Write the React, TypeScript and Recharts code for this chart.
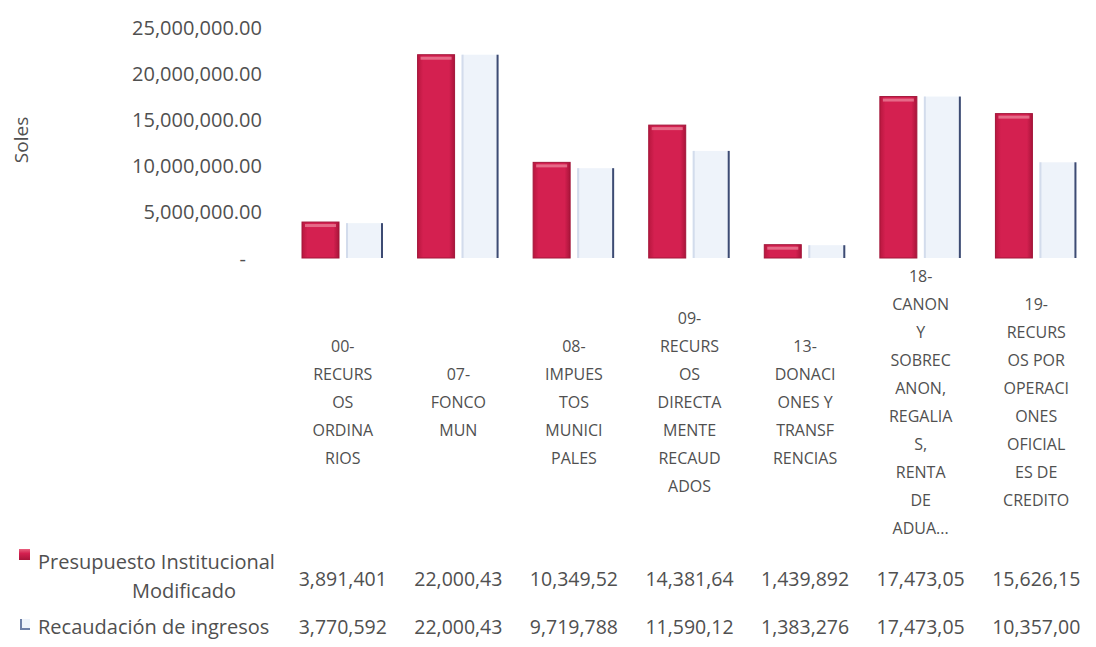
import { BarChart, Bar, XAxis, YAxis } from 'recharts';

const categories = [
  '00-RECURSOS ORDINARIOS',
  '07-FONCOMUN',
  '08-IMPUESTOS MUNICIPALES',
  '09-RECURSOS DIRECTAMENTE RECAUDADOS',
  '13-DONACIONES Y TRANSFERENCIAS',
  '18-CANON Y SOBRECANON, REGALIAS, RENTA DE ADUA...',
  '19-RECURSOS POR OPERACIONES OFICIALES DE CREDITO',
];

// wrapped exactly as shown in the axis
const categoryLines = [
  ['00-', 'RECURS', 'OS', 'ORDINA', 'RIOS'],
  ['07-', 'FONCO', 'MUN'],
  ['08-', 'IMPUES', 'TOS', 'MUNICI', 'PALES'],
  ['09-', 'RECURS', 'OS', 'DIRECTA', 'MENTE', 'RECAUD', 'ADOS'],
  ['13-', 'DONACI', 'ONES Y', 'TRANSF', 'RENCIAS'],
  ['18-', 'CANON', 'Y', 'SOBREC', 'ANON,', 'REGALIA', 'S,', 'RENTA', 'DE', 'ADUA...'],
  ['19-', 'RECURS', 'OS POR', 'OPERACI', 'ONES', 'OFICIAL', 'ES DE', 'CREDITO'],
];

const presupuesto = [3891401, 22000430, 10349520, 14381640, 1439892, 17473050, 15626150];
const recaudacion = [3770592, 22000430, 9719788, 11590120, 1383276, 17473050, 10357000];

// the data table shows cut-off numbers
const presupuestoLabels = ['3,891,401', '22,000,43', '10,349,52', '14,381,64', '1,439,892', '17,473,05', '15,626,15'];
const recaudacionLabels = ['3,770,592', '22,000,43', '9,719,788', '11,590,12', '1,383,276', '17,473,05', '10,357,00'];

const yTicks = [0, 5000000, 10000000, 15000000, 20000000, 25000000];

const data = categories.map((name, i) => ({
  name,
  presupuesto: presupuesto[i],
  recaudacion: recaudacion[i],
}));

const FONT = '"Open Sans", sans-serif';
const TEXT = '#505050';

function YTick(props: any) {
  const { x, y, payload } = props;
  const v = payload.value as number;
  const label =
    v === 0
      ? '-'
      : v.toLocaleString('en-US', { minimumFractionDigits: 2, maximumFractionDigits: 2 });
  return (
    <text
      x={v === 0 ? x - 16 : x}
      y={y}
      textAnchor="end"
      dominantBaseline="central"
      fontFamily={FONT}
      fontSize={20}
      fill={TEXT}
    >
      {label}
    </text>
  );
}

function XTick(props: any) {
  const { x, y, payload } = props;
  const i = categories.indexOf(payload.value);
  const lines = categoryLines[i] || [];
  const lh = 28;
  const start = y + 144 - ((lines.length - 1) * lh) / 2;
  return (
    <g>
      {lines.map((l, k) => (
        <text
          key={k}
          x={x}
          y={start + k * lh}
          textAnchor="middle"
          dominantBaseline="central"
          fontFamily={FONT}
          fontSize={16}
          fill={TEXT}
        >
          {l}
        </text>
      ))}
      <text x={x} y={y + 320} textAnchor="middle" dominantBaseline="central" fontFamily={FONT} fontSize={19.5} fill={TEXT}>
        {presupuestoLabels[i]}
      </text>
      <text x={x} y={y + 368} textAnchor="middle" dominantBaseline="central" fontFamily={FONT} fontSize={19.5} fill={TEXT}>
        {recaudacionLabels[i]}
      </text>
    </g>
  );
}

function RedBar(props: any) {
  const { x, y, width, height } = props;
  if (!height || height <= 0) return null;
  return (
    <g>
      <rect x={x} y={y} width={width} height={height} fill="url(#redGrad)" />
      <rect x={x + 3} y={y + 2} width={width - 6} height={Math.min(3, height - 2)} fill="#ee8aa0" opacity={0.7} />
      <rect x={x} y={y} width={width} height={height} fill="none" stroke="#a3163a" strokeWidth={1} />
    </g>
  );
}

function BlueBar(props: any) {
  const { x, y, width, height } = props;
  if (!height || height <= 0) return null;
  return (
    <g>
      <rect x={x} y={y} width={width} height={height} fill="#eef3fa" />
      <rect x={x} y={y} width={2} height={height} fill="#d3dcec" />
      <rect x={x + width - 2} y={y} width={2} height={height} fill="#3d4b73" />
    </g>
  );
}

export default function App() {
  return (
    <div style={{ position: 'absolute', left: 0, top: 0, width: 1096, height: 647, background: '#fff' }}>
      <BarChart
        width={1096}
        height={647}
        data={data}
        margin={{ top: 27, right: 2, bottom: 0, left: 0 }}
        barSize={37}
        barGap={7}
      >
        <defs>
          <linearGradient id="redGrad" x1="0" y1="0" x2="1" y2="0">
            <stop offset="0%" stopColor="#b8173f" />
            <stop offset="15%" stopColor="#d42050" />
            <stop offset="85%" stopColor="#d42050" />
            <stop offset="100%" stopColor="#a9143a" />
          </linearGradient>
        </defs>
        <XAxis
          dataKey="name"
          height={389}
          axisLine={false}
          tickLine={false}
          tickSize={0}
          tickMargin={0}
          interval={0}
          tick={<XTick />}
        />
        <YAxis
          width={285}
          domain={[0, 25000000]}
          ticks={yTicks}
          axisLine={false}
          tickLine={false}
          tickSize={0}
          tickMargin={23}
          tick={<YTick />}
        />
        <Bar dataKey="presupuesto" shape={<RedBar />} isAnimationActive={false} />
        <Bar dataKey="recaudacion" shape={<BlueBar />} isAnimationActive={false} />
      </BarChart>
      <svg
        width={1096}
        height={647}
        style={{ position: 'absolute', left: 0, top: 0, pointerEvents: 'none' }}
      >
        <defs>
          <linearGradient id="legendRed" x1="0" y1="0" x2="0" y2="1">
            <stop offset="0%" stopColor="#e8607e" />
            <stop offset="40%" stopColor="#d42050" />
            <stop offset="100%" stopColor="#a9143a" />
          </linearGradient>
        </defs>
        <text
          x={21}
          y={140}
          transform="rotate(-90 21 140)"
          textAnchor="middle"
          dominantBaseline="central"
          fontFamily={FONT}
          fontSize={19}
          fill={TEXT}
        >
          Soles
        </text>
        <rect x={19} y={549} width={11} height={11} fill="url(#legendRed)" />
        <text x={38} y={561} dominantBaseline="central" fontFamily={FONT} fontSize={20} fill={TEXT}>
          Presupuesto Institucional
        </text>
        <text x={184} y={590} textAnchor="middle" dominantBaseline="central" fontFamily={FONT} fontSize={20} fill={TEXT}>
          Modificado
        </text>
        <rect x={20} y={619} width={10} height={11} fill="#eef3fa" />
        <rect x={20} y={619} width={2} height={11} fill="#6d7fa6" />
        <rect x={20} y={628} width={10} height={2} fill="#6d7fa6" />
        <text x={38} y={626} dominantBaseline="central" fontFamily={FONT} fontSize={20} fill={TEXT}>
          Recaudación de ingresos
        </text>
      </svg>
    </div>
  );
}
